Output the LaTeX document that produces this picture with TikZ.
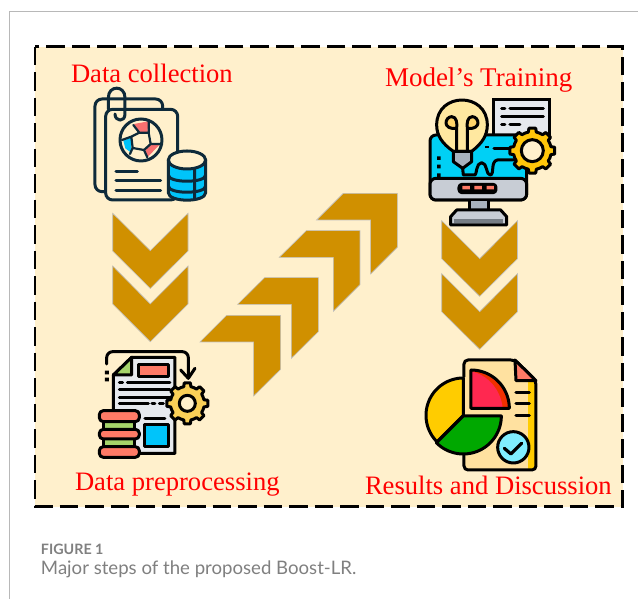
\documentclass[tikz,border=0pt]{standalone}
\usepackage{fontspec}
\setmainfont{Liberation Serif}
\newfontfamily\capfont{Lato}
\definecolor{cream}{HTML}{FFF0CC}
\definecolor{gold}{HTML}{D09000}
\definecolor{ink}{HTML}{0E2A3A}
\definecolor{paper}{HTML}{E6E9EE}
\definecolor{steel}{HTML}{A8B2BE}
\definecolor{lightsteel}{HTML}{C8CDD5}
\definecolor{salmon}{HTML}{FF7A66}
\definecolor{capgray}{HTML}{808080}
\definecolor{skyb}{HTML}{00C4FA}
\definecolor{screenb}{HTML}{00D0F5}
\definecolor{bulb}{HTML}{FFE8A0}
\definecolor{bulbin}{HTML}{FFD46A}
\definecolor{gearc}{HTML}{FFC60A}
\definecolor{gearl}{HTML}{F9CF57}
\definecolor{leaf}{HTML}{A5D46A}
\definecolor{docy}{HTML}{FFE1A0}
\definecolor{piey}{HTML}{FFCC00}
\definecolor{pieg}{HTML}{00A800}
\definecolor{pier}{HTML}{FF2850}
\definecolor{pied}{HTML}{F03000}
\definecolor{checkc}{HTML}{80EEFF}
\definecolor{wedge}{HTML}{F87070}
\tikzset{
  chev/.style={fill=gold,draw=black!25,line width=0.6pt,line join=miter},
  title/.style={anchor=base west,text=red,inner sep=0pt,outer sep=0pt},
  capt/.style={anchor=base west,text=capgray,inner sep=0pt,outer sep=0pt},
  ic/.style={line width=3pt,line join=round,line cap=round},
  icon/.style={x=0.3333pt,y=-0.3333pt},
}
% cx cy outer inner teeth
\newcommand{\gearpath}[5]{%
  \foreach \k [evaluate=\k as \a using {\k*360/#5}] in {1,...,#5}{
    \ifnum\k=1 \else -- \fi
    ({#1+#4*cos(\a-0.5*360/#5)},{#2+#4*sin(\a-0.5*360/#5)})
    -- ({#1+#4*cos(\a-0.27*360/#5)},{#2+#4*sin(\a-0.27*360/#5)})
    -- ({#1+#3*cos(\a-0.19*360/#5)},{#2+#3*sin(\a-0.19*360/#5)})
    -- ({#1+#3*cos(\a+0.19*360/#5)},{#2+#3*sin(\a+0.19*360/#5)})
    -- ({#1+#4*cos(\a+0.27*360/#5)},{#2+#4*sin(\a+0.27*360/#5)})
  } -- cycle}
\begin{document}
\begin{tikzpicture}[x=1pt,y=-1pt]
\useasboundingbox (0,0) rectangle (638,599);
\fill[white] (0,0) rectangle (638,599);
% page rule
\draw[black!28,line width=1.2pt] (638,11.5) -- (9.5,11.5) -- (9.5,599);
% frame
\fill[cream] (35,46.7) rectangle (622.7,506.7);
\draw[black,line width=2.6pt,dash pattern=on 18.5pt off 7pt] (35,46.7) rectangle (622.7,506.7);
% down chevrons
\draw[chev] (112.7,213.3) -- (150.3,250.7) -- (188,213.3) -- (188,251) -- (150.3,288.5) -- (112.7,251) -- cycle;
\draw[chev] (112.7,266) -- (150.3,304) -- (188,266) -- (188,304) -- (150.3,341.7) -- (112.7,304) -- cycle;
\draw[chev] (441.7,220.7) -- (479.7,258.7) -- (517.5,220.7) -- (517.5,258.7) -- (479.7,296.3) -- (441.7,258.7) -- cycle;
\draw[chev] (441.7,273.7) -- (479.7,311.7) -- (517.5,273.7) -- (517.5,311.7) -- (479.7,349.3) -- (441.7,311.7) -- cycle;
% diagonal chevrons
\begin{scope}[shift={(190,180)},icon]
\draw[chev] (30,486) -- (110,406) -- (272,406) -- (272,568) -- (191,648) -- (191,486) -- cycle;
\draw[chev] (143,373) -- (224,293) -- (385,293) -- (385,455) -- (304,535) -- (304,373) -- cycle;
\draw[chev] (268,232) -- (349,152) -- (510,152) -- (510,314) -- (430,394) -- (430,232) -- cycle;
\draw[chev] (380,120) -- (460,40) -- (622,40) -- (622,202) -- (542,282) -- (542,120) -- cycle;
\end{scope}
% ---------- data collection icon
\begin{scope}[shift={(60,50)},icon,ic,draw=ink]
\draw[rounded corners=7pt] (137,425) -- (105,425) -- (105,147) -- (308,147) -- (308,178);
\draw[fill=cream,rounded corners=7pt] (137,178) rectangle (353,450);
\draw (145,178) -- (145,143) .. controls (145,105) and (195,105) .. (195,143) -- (195,192) .. controls (195,218) and (165,215) .. (165,192);
\fill[wedge] (222,222) -- (265,214) -- (262,252) -- (235,245) -- cycle;
\fill[skyb] (190,272) -- (215,262) -- (212,307) -- (196,295) -- cycle;
\fill[wedge] (300,283) -- (262,322) -- (256,300) -- (272,280) -- cycle;
\draw (243,270) circle[radius=63];
\draw[line width=2.2pt] (220,225) -- (238,248) -- (266,248) -- (266,215)
  (266,248) -- (272,282) -- (302,282)
  (272,282) -- (252,300) -- (262,322)
  (252,300) -- (218,294) -- (210,312)
  (218,294) -- (214,260) -- (186,270)
  (214,260) -- (238,248);
\draw (168,365) -- (232,365) (168,393) -- (302,393) (168,421) -- (302,421);
\draw[fill=skyb] (325,330) -- (325,428) .. controls (325,458) and (437,458) .. (437,428) -- (437,330) -- cycle;
\draw[fill=cream] (381,330) ellipse[x radius=56,y radius=27];
\draw (325,375) .. controls (325,400) and (437,400) .. (437,375)
      (325,408) .. controls (325,433) and (437,433) .. (437,408)
      (404,356) -- (404,445);
\end{scope}
% ---------- model's training icon
\begin{scope}[shift={(410,80)},icon,ic,draw=black]
\draw[fill=paper,line join=miter] (250,58) rectangle (420,175);
\draw (300,85) -- (400,85) (275,85) -- (285,85) (275,110) -- (400,110) (275,135) -- (285,135) (300,135) -- (330,135);
\draw[fill=screenb,rounded corners=6pt] (60,165) rectangle (350,360);
\draw[fill=lightsteel,rounded corners=6pt] (60,295) -- (60,360) -- (350,360) -- (350,295) -- cycle;
\draw[fill=black,rounded corners=3pt] (147,313) rectangle (258,338);
\fill[salmon] (157,318) rectangle (180,328) (193,318) rectangle (216,328) (230,318) rectangle (252,328);
\fill[steel] (180,362) rectangle (235,392);
\draw (180,362) -- (180,392) (235,362) -- (235,392);
\draw[fill=lightsteel] (122,435) -- (122,410) -- (140,390) -- (272,390) -- (290,410) -- (290,435) -- cycle;
\fill[steel!70!black] (132,416) rectangle (280,428);
\draw[fill=bulb] (130,214) .. controls (95,190) and (80,165) .. (80,135)
   .. controls (80,35) and (232,35) .. (232,135) .. controls (232,165) and (217,190) .. (185,214) -- cycle;
\draw[fill=steel] (130,214) -- (130,245) -- (158,265) -- (185,245) -- (185,214) -- cycle;
\draw[fill=bulbin] (140,214) -- (140,145) .. controls (95,150) and (105,110) .. (125,110) .. controls (140,110) and (142,130) .. (140,145) (172,214) -- (172,145) .. controls (170,130) and (172,110) .. (187,110) .. controls (207,110) and (217,150) .. (172,145);
\draw (158,265) -- (160,285) -- (195,285) .. controls (200,285) and (198,248) .. (215,248) .. controls (232,248) and (228,285) .. (240,285) .. controls (255,285) and (240,245) .. (262,240) -- (335,240);
\draw (252,205) -- (335,205);
\fill (224,197) rectangle (236,205);
\fill (81,229) rectangle (92,240) (81,254) rectangle (92,265) (81,280) rectangle (92,291);
\draw[fill=gearc] \gearpath{367}{212}{68}{57}{8};
\draw[fill=cream] (367,212) circle[radius=33];
\end{scope}
% ---------- data preprocessing icon
\begin{scope}[shift={(80,340)},icon,ic,draw=black]
\draw[rounded corners=6pt] (80,72) -- (80,35) -- (325,35) -- (325,112);
\draw (302,90) -- (325,115) -- (345,85);
\fill (75,92) rectangle (87,103) (75,113) rectangle (87,124);
\draw[fill=paper] (155,52) -- (285,52) -- (285,340) -- (100,340) -- (100,105) -- cycle;
\draw[fill=leaf,line join=round] (155,52) -- (155,105) -- (100,105) -- cycle;
\draw[fill=salmon] (175,75) rectangle (265,110);
\draw (118,128) -- (128,128) (142,128) -- (270,128) (118,150) -- (270,150) (118,172) -- (270,172)
      (118,192) -- (205,192) (216,192) -- (225,192) (238,192) -- (250,192) (195,235) -- (255,235);
\draw[fill=skyb] (195,255) rectangle (265,320);
\draw[fill=gearl] \gearpath{322}{190}{62}{51}{8};
\draw[fill=cream] (322,190) circle[radius=24];
\draw[fill=leaf] (72,245) rectangle (165,270);
\draw[fill=leaf] (72,297) rectangle (165,320);
\draw[fill=salmon,rounded corners=4pt] (58,212) rectangle (178,245);
\draw[fill=salmon,rounded corners=4pt] (58,268) rectangle (178,297);
\draw[fill=salmon,rounded corners=4pt] (58,320) rectangle (178,352);
\end{scope}
% ---------- results icon
\begin{scope}[shift={(410,350)},icon,ic,draw=black]
\fill[docy] (162,30) -- (315,30) -- (378,92) -- (378,360) -- (162,360) -- cycle;
\fill[piey] (355,92) rectangle (378,360);
\draw[rounded corners=4pt] (162,80) -- (162,30) -- (315,30) -- (378,92) -- (378,360) -- (162,360) -- (162,310);
\draw[fill=salmon] (315,30) -- (318,92) -- (378,92) -- cycle;
\fill[piey] (160,196) -- plot[domain=135:270,samples=40] ({160+112*cos(\x)},{196+112*sin(\x)}) -- cycle;
\draw (160,196) -- (160,84) plot[domain=270:135,samples=40] ({160+112*cos(\x)},{196+112*sin(\x)}) -- (160,196);
\draw[fill=pieg] (160,198) -- (274,198) -- plot[domain=0:135,samples=40] ({160+114*cos(\x)},{198+114*sin(\x)}) -- cycle;
\fill[pied] (183,60) -- (183,175) -- (298,175) -- plot[domain=0:-90,samples=30] ({183+115*cos(\x)},{175+115*sin(\x)}) -- cycle;
\fill[pier] (183,64) -- (183,173) -- (278,173) .. controls (272,120) and (235,75) .. (183,64) -- cycle;
\draw (183,60) -- (183,175) -- (298,175) plot[domain=0:-90,samples=30] ({183+115*cos(\x)},{175+115*sin(\x)});
\draw (318,127) -- (358,127) (318,162) -- (358,162) (318,196) -- (358,196);
\draw[fill=checkc] (310,292) circle[radius=47];
\draw[line width=3.2pt] (283,295) -- (303,312) -- (335,280);
\end{scope}
% ---------- text
\node[title,font=\fontsize{26.6}{30}\selectfont] (t1) at (71,83) {Data collection};
\node[title,font=\fontsize{27}{30}\selectfont] (t2) at (385,87) {Model’s Training};
\node[title,font=\fontsize{26.6}{30}\selectfont] (t3) at (75,490) {Data preprocessing};
\node[title,font=\fontsize{26.6}{30}\selectfont] (t4) at (365,494) {Results and Discussion};
\node[capt,font=\capfont\bfseries\fontsize{14.3}{16}\selectfont] (c1) at (41,554) {FIGURE 1};
\node[capt,font=\capfont\fontsize{18.6}{20}\selectfont] (c2) at (41,574) {Major steps of the proposed Boost-LR.};
\end{tikzpicture}
\end{document}
